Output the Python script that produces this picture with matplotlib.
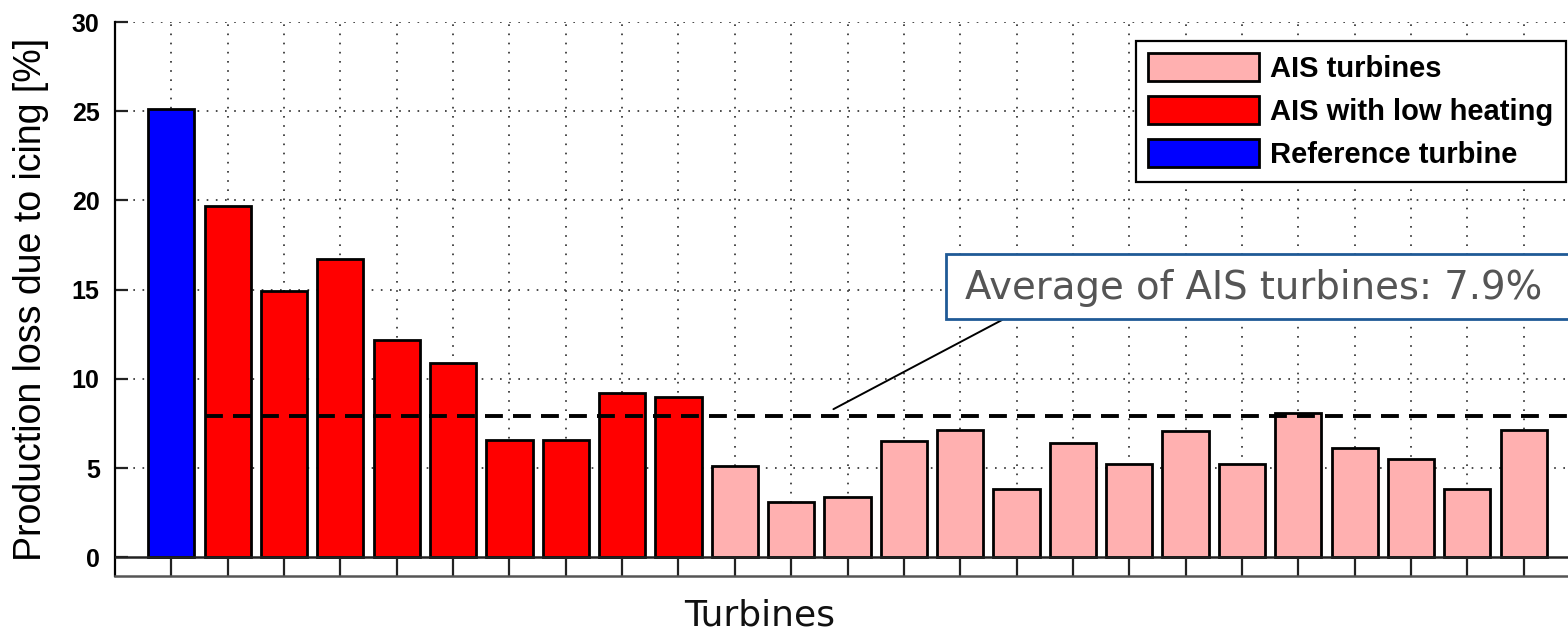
import numpy as np
import matplotlib
matplotlib.use('Agg')
import matplotlib.pyplot as plt
from matplotlib.patches import Patch, Rectangle

# values
ref_loss = [25.1]
low_heat_loss = [19.7, 14.9, 16.7, 12.2, 10.9, 6.6, 6.6, 9.2, 9.0]
ais_loss = [5.1, 3.1, 3.35, 6.5, 7.15, 3.8, 6.4, 5.25, 7.05, 5.25, 8.1, 6.15, 5.5, 3.8, 7.15]
ais_average = 7.9
legend_labels = ['AIS turbines', 'AIS with low heating', 'Reference turbine']
y_ticks = [0, 5, 10, 15, 20, 25, 30]

c_ais = '#ffb0b0'
c_low = '#ff0000'
c_ref = '#0000ff'

W, H = 1568, 630
fig = plt.figure(figsize=(W / 100, H / 100), dpi=100)
ax = fig.add_axes([115 / W, 1 - 576 / H, (1580 - 115) / W, (576 - 22) / H])

values = ref_loss + low_heat_loss + ais_loss
colors = [c_ref] * len(ref_loss) + [c_low] * len(low_heat_loss) + [c_ais] * len(ais_loss)
x = np.arange(1, len(values) + 1)
bw = 0.82

ax.bar(x, values, width=bw, color=colors, edgecolor='black', linewidth=2, zorder=3)
ax.axhline(0, color='#222222', lw=1.8, zorder=4)

ax.set_xlim(0, len(values) + 1)
ax.set_ylim(-1.05, 30)

# dashed average line, starting at first AIS bar
x0 = x[len(ref_loss)] - bw / 2
ax.plot([x0, len(values) + 1], [ais_average, ais_average], color='black', lw=2.8,
        dashes=(4.6, 2.6), zorder=5)

ax.set_xticks(x)
ax.set_xticklabels([])
ax.set_yticks(y_ticks)
ax.set_yticklabels([str(t) for t in y_ticks], fontfamily='Liberation Sans',
                   fontweight='bold', fontsize=18)
ax.tick_params(axis='x', direction='in', length=12.5, width=1.6, color='#222222')
ax.tick_params(axis='y', direction='in', length=9.5, width=1.6, color='#222222', pad=11)

ax.grid(True, linestyle=(0, (1, 4.5)), color='#2a2a2a', lw=1.2)
ax.set_axisbelow(True)
for gl in ax.get_ygridlines():
    if abs(gl.get_ydata()[0]) < 1e-9:
        gl.set_visible(False)

ax.spines['top'].set_visible(False)
ax.spines['right'].set_visible(False)
ax.spines['left'].set_linewidth(1.6)
ax.spines['bottom'].set_linewidth(1.8)
ax.spines['bottom'].set_color('#555555')

fig.text(31 / W, 1 - 299 / H, 'Production loss due to icing [%]', rotation=90,
         ha='center', va='center', fontsize=27, fontfamily='Liberation Sans')
fig.text(760 / W, 1 - 625 / H, 'Turbines', ha='center', va='baseline',
         fontsize=26, fontfamily='DejaVu Sans', color='#111111')

handles = [Patch(facecolor=c, edgecolor='black', linewidth=2) for c in (c_ais, c_low, c_ref)]
leg = ax.legend(handles, legend_labels, loc='upper right',
                bbox_to_anchor=(1566 / W, 1 - 41 / H), bbox_transform=fig.transFigure,
                fancybox=False, edgecolor='black', framealpha=1, borderaxespad=0,
                prop=dict(family='Liberation Sans', weight='bold', size=21),
                handlelength=3.8, handleheight=1.1, handletextpad=0.4,
                labelspacing=0.45, borderpad=0.42)
leg.get_frame().set_linewidth(1.6)
leg.set_zorder(10)

# callout box for the average
box = Rectangle((946 / W, 1 - 319 / H), (1600 - 946) / W, 65 / H, transform=fig.transFigure,
                facecolor='white', edgecolor='#1f5a96', lw=2, zorder=8)
fig.add_artist(box)
fig.text(965 / W, 1 - 288 / H, 'Average of AIS turbines: %.1f%%' % ais_average,
         ha='left', va='center', fontsize=27.8, fontfamily='DejaVu Sans', color='#555555',
         zorder=9)
ax.annotate('', xy=(12.75, ais_average + 0.4), xycoords='data',
            xytext=(1002 / W, 1 - 320 / H), textcoords='figure fraction',
            arrowprops=dict(arrowstyle='-', lw=1.4, color='black', shrinkA=0, shrinkB=0),
            zorder=7)

fig.savefig('out.png', dpi=100)
